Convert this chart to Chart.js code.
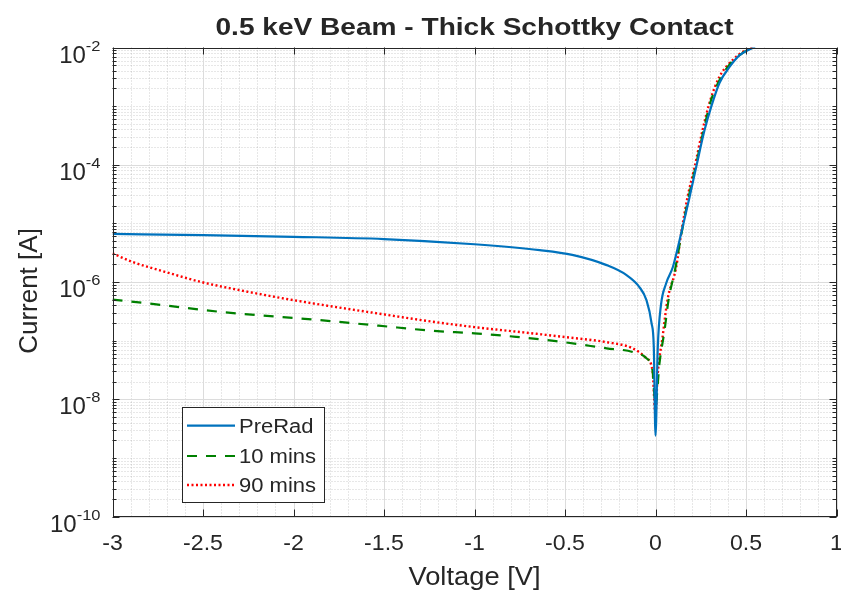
<!DOCTYPE html>
<html><head><meta charset="utf-8">
<script src="https://cdn.jsdelivr.net/npm/chart.js@4"></script>
<style>html,body{margin:0;padding:0;background:#fff}#wrap{width:841px;height:592px;position:relative}</style>
</head><body><div id="wrap"><canvas id="c" width="841" height="592"></canvas></div>
<script>
// ---- data ----
const preRadV = [-3.0,-2.5,-2.0,-1.5,-1.0,-0.64,-0.46,-0.27,-0.16,-0.089,-0.05,-0.022,-0.0094,0.0,0.0127,0.03,0.059,0.096,0.142,0.188,0.225,0.271,0.308,0.354,0.41,0.465,0.51,0.55];
const preRadI = [6.6e-6,6.3e-6,5.9e-6,5.4e-6,4.4e-6,3.5e-6,2.9e-6,1.94e-6,1.31e-6,8.2e-7,4.9e-7,2.0e-7,7.8e-8,2.4e-9,7.8e-8,4.0e-7,9.5e-7,1.8e-6,6.8e-6,2.8e-5,9.2e-5,3.9e-4,9.8e-4,2.5e-3,4.7e-3,7.4e-3,9.0e-3,1.02e-2];
const min10V = [-3.0,-2.71,-2.49,-2.19,-1.97,-1.53,-1.23,-1.0,-0.77,-0.55,-0.27,-0.127,-0.05,-0.0166,0.0,0.022,0.05,0.072,0.111,0.144,0.183,0.221,0.266,0.304,0.354,0.42,0.48,0.545];
const min10I = [5.0e-7,4.0e-7,3.3e-7,2.7e-7,2.4e-7,1.8e-7,1.47e-7,1.33e-7,1.16e-7,9.8e-8,7.4e-8,6.4e-8,5.0e-8,3.1e-8,8e-9,4.1e-8,1.5e-7,4.9e-7,1.8e-6,6.8e-6,2.8e-5,9.1e-5,3.9e-4,1.18e-3,2.8e-3,5.6e-3,8.0e-3,1.02e-2];
const min90V = [-3.0,-2.89,-2.71,-2.51,-2.25,-2.0,-1.5,-1.23,-1.0,-0.64,-0.5,-0.27,-0.127,-0.05,-0.0166,0.0,0.011,0.039,0.066,0.1145,0.142,0.177,0.216,0.26,0.303,0.354,0.426,0.48,0.54];
const min90I = [3.08e-6,2.2e-6,1.49e-6,1.0e-6,6.8e-7,4.9e-7,2.8e-7,2.1e-7,1.7e-7,1.29e-7,1.15e-7,9.4e-8,7.4e-8,5.0e-8,3.1e-8,5.4e-9,2.4e-8,1.15e-7,4.9e-7,1.8e-6,6.8e-6,2.8e-5,9.1e-5,3.9e-4,1.27e-3,3.2e-3,6.1e-3,8.3e-3,1.02e-2];
const seriesNames = ['PreRad','10 mins','90 mins'];
const xTickValues = [-3,-2.5,-2,-1.5,-1,-0.5,0,0.5,1];
const xTickLabels = ['-3','-2.5','-2','-1.5','-1','-0.5','0','0.5','1'];
const yTickExponents = [-2,-4,-6,-8,-10];
const titleText = '0.5 keV Beam - Thick Schottky Contact';
const xAxisTitle = 'Voltage [V]';
const yAxisTitle = 'Current [A]';

const pts = (V, I) => V.map((v, i) => ({x: v, y: I[i]}));
const AX = '#262626';

function txt(ctx, s, x, y, font, align, base, sx) {
  ctx.save(); ctx.translate(x, y); ctx.scale(sx || 1, 1);
  ctx.font = font; ctx.textAlign = align; ctx.textBaseline = base || 'alphabetic';
  ctx.fillStyle = AX; ctx.fillText(s, 0, 0); ctx.restore();
}

const matlabPlugin = {
  id: 'matlab',
  beforeDatasetsDraw(chart) {
    const {ctx, chartArea: a, scales: {x, y}} = chart;
    ctx.save();
    // minor grid (dotted)
    ctx.lineWidth = 1; ctx.strokeStyle = 'rgba(38,38,38,0.22)'; ctx.setLineDash([1, 2]);
    ctx.beginPath();
    for (let k = -30; k <= 10; k++) {
      const v = k / 10;
      if (Math.abs(v * 2 - Math.round(v * 2)) < 1e-9) continue;
      const px = Math.round(x.getPixelForValue(v)) + 0.5;
      ctx.moveTo(px, a.top); ctx.lineTo(px, a.bottom);
    }
    for (let e = -10; e < -2; e++) {
      for (let m = 1; m <= 9; m++) {
        if (m === 1 && e % 2 === 0) continue;
        const py = Math.round(y.getPixelForValue(m * Math.pow(10, e))) + 0.5;
        ctx.moveTo(a.left, py); ctx.lineTo(a.right, py);
      }
    }
    ctx.stroke();
    // major grid
    ctx.setLineDash([]); ctx.strokeStyle = '#dcdcdc';
    ctx.beginPath();
    xTickValues.forEach(v => { const px = Math.round(x.getPixelForValue(v)) + 0.5; ctx.moveTo(px, a.top); ctx.lineTo(px, a.bottom); });
    yTickExponents.forEach(e => { const py = Math.round(y.getPixelForValue(Math.pow(10, e))) + 0.5; ctx.moveTo(a.left, py); ctx.lineTo(a.right, py); });
    ctx.stroke();
    ctx.restore();
  },
  afterDatasetsDraw(chart) {
    const {ctx, chartArea: a, scales: {x, y}} = chart;
    ctx.save();
    // box
    ctx.strokeStyle = AX; ctx.lineWidth = 1; ctx.setLineDash([]);
    ctx.strokeRect(Math.round(a.left) + 0.5, Math.round(a.top) + 0.5, Math.round(a.right - a.left) - 1, Math.round(a.bottom - a.top) - 1);
    // ticks
    ctx.beginPath();
    xTickValues.forEach(v => {
      const px = Math.round(x.getPixelForValue(v)) + 0.5;
      ctx.moveTo(px, a.bottom); ctx.lineTo(px, a.bottom - 7);
      ctx.moveTo(px, a.top); ctx.lineTo(px, a.top + 7);
    });
    for (let e = -10; e <= -2; e++) {
      for (let m = 1; m <= 9; m++) {
        const val = m * Math.pow(10, e);
        if (val > 1.0001e-2) continue;
        const major = (m === 1 && e % 2 === 0);
        const len = major ? 7 : 4;
        const py = Math.round(y.getPixelForValue(val)) + 0.5;
        ctx.moveTo(a.left, py); ctx.lineTo(a.left + len, py);
        ctx.moveTo(a.right, py); ctx.lineTo(a.right - len, py);
      }
    }
    ctx.stroke();
    // x tick labels
    xTickValues.forEach((v, i) => {
      txt(ctx, xTickLabels[i], x.getPixelForValue(v), a.bottom + 33, '22px "Liberation Sans", Arial, sans-serif', 'center', 'alphabetic', 1.05);
    });
    // y tick labels 10^e
    yTickExponents.forEach(e => {
      const py = y.getPixelForValue(Math.pow(10, e));
      const sup = String(e);
      ctx.font = '15px "Liberation Sans", Arial, sans-serif';
      const wSup = ctx.measureText(sup).width * 1.1;
      const right = a.left - 12;
      txt(ctx, sup, right - wSup, py + 3, '15px "Liberation Sans", Arial, sans-serif', 'left', 'alphabetic', 1.1);
      txt(ctx, '10', right - wSup, py + 15, '24px "Liberation Sans", Arial, sans-serif', 'right', 'alphabetic', 1.0);
    });
    // axis titles
    txt(ctx, xAxisTitle, (a.left + a.right) / 2, 585, '26px "Liberation Sans", Arial, sans-serif', 'center', 'alphabetic', 1.05);
    ctx.save();
    ctx.translate(37, (a.top + a.bottom) / 2 + 9);
    ctx.rotate(-Math.PI / 2);
    txt(ctx, yAxisTitle, 0, 0, '26px "Liberation Sans", Arial, sans-serif', 'center', 'alphabetic', 1.0);
    ctx.restore();
    // title
    txt(ctx, titleText, (a.left + a.right) / 2, 35, 'bold 24px "Liberation Sans", Arial, sans-serif', 'center', 'alphabetic', 1.17);
    // legend
    const lx = 182.5, ly = 407.5, lw = 142, lh = 95;
    ctx.fillStyle = '#fff'; ctx.fillRect(lx, ly, lw, lh);
    ctx.strokeStyle = AX; ctx.lineWidth = 1; ctx.strokeRect(lx, ly, lw, lh);
    const rows = [425.7, 456, 485];
    chart.data.datasets.forEach((ds, i) => {
      ctx.save();
      ctx.strokeStyle = ds.borderColor; ctx.lineWidth = ds.borderWidth;
      ctx.setLineDash(ds.borderDash || []); ctx.lineCap = 'butt';
      ctx.beginPath(); ctx.moveTo(187, rows[i]); ctx.lineTo(235, rows[i]); ctx.stroke();
      ctx.restore();
      txt(ctx, seriesNames[i], 239, rows[i] + 7, '20px "Liberation Sans", Arial, sans-serif', 'left', 'alphabetic', 1.1);
    });
    ctx.restore();
  }
};

new Chart(document.getElementById('c'), {
  type: 'line',
  data: {
    datasets: [
      {label: seriesNames[0], data: pts(preRadV, preRadI), borderColor: '#0072BD', borderWidth: 2.2, pointRadius: 0, cubicInterpolationMode: 'monotone', fill: false},
      {label: seriesNames[1], data: pts(min10V, min10I), borderColor: '#008000', borderWidth: 2.2, borderDash: [10, 9], pointRadius: 0, cubicInterpolationMode: 'monotone', fill: false},
      {label: seriesNames[2], data: pts(min90V, min90I), borderColor: '#ff0000', borderWidth: 2.4, borderDash: [2, 2.5], pointRadius: 0, cubicInterpolationMode: 'monotone', fill: false}
    ]
  },
  options: {
    responsive: false, devicePixelRatio: 1, animation: false,
    layout: {padding: {left: 0, top: 47.5, right: 4.5, bottom: 0}},
    plugins: {legend: {display: false}, title: {display: false}, tooltip: {enabled: false}},
    scales: {
      x: {type: 'linear', min: -3, max: 1, grid: {display: false}, border: {display: false}, ticks: {display: false},
          afterFit: s => { s.height = 75.5; }},
      y: {type: 'logarithmic', min: 1e-10, max: 1e-2, grid: {display: false}, border: {display: false}, ticks: {display: false},
          afterFit: s => { s.width = 112.5; }}
    }
  },
  plugins: [matlabPlugin]
});
</script></body></html>
